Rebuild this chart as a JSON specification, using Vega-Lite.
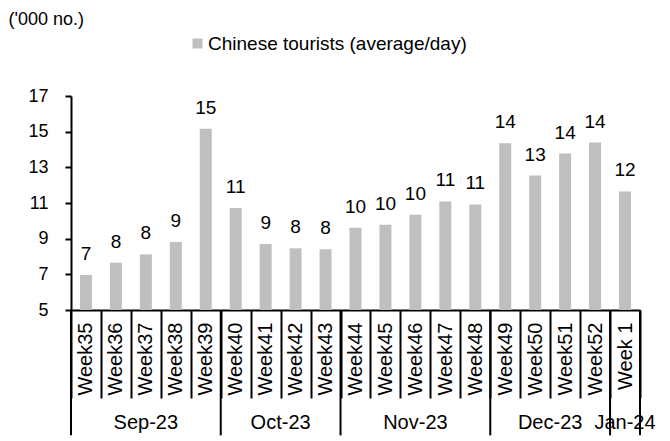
{
  "$schema": "https://vega.github.io/schema/vega-lite/v6.json",
  "autosize": "none",
  "width": 569,
  "height": 214,
  "padding": {"left": 71, "top": 96, "right": 30, "bottom": 131},
  "background": "white",
  "config": {
    "view": {"stroke": null},
    "font": "Liberation Sans",
    "text": {"font": "Liberation Sans", "color": "black"},
    "axis": {"labelFont": "Liberation Sans", "titleFont": "Liberation Sans", "labelColor": "black", "titleColor": "black"},
    "legend": {"labelFont": "Liberation Sans", "labelColor": "black"}
  },
  "datasets": {
    "weeks": [
      {"week": "Week35", "value": 6.97},
      {"week": "Week36", "value": 7.65},
      {"week": "Week37", "value": 8.12},
      {"week": "Week38", "value": 8.81},
      {"week": "Week39", "value": 15.17},
      {"week": "Week40", "value": 10.72},
      {"week": "Week41", "value": 8.70},
      {"week": "Week42", "value": 8.46},
      {"week": "Week43", "value": 8.40},
      {"week": "Week44", "value": 9.61},
      {"week": "Week45", "value": 9.78},
      {"week": "Week46", "value": 10.34},
      {"week": "Week47", "value": 11.09},
      {"week": "Week48", "value": 10.92},
      {"week": "Week49", "value": 14.35},
      {"week": "Week50", "value": 12.54},
      {"week": "Week51", "value": 13.77},
      {"week": "Week52", "value": 14.39},
      {"week": "Week 1", "value": 11.65}
    ],
    "monthStarts": [
      {"week": "Week35"},
      {"week": "Week40"},
      {"week": "Week44"},
      {"week": "Week49"},
      {"week": "Week 1"}
    ],
    "monthEnd": [
      {"week": "Week 1"}
    ],
    "monthsOdd": [
      {"week": "Week37", "month": "Sep-23"},
      {"week": "Week46", "month": "Nov-23"},
      {"week": "Week 1", "month": "Jan-24"}
    ],
    "monthsEven": [
      {"week": "Week41", "month": "Oct-23"},
      {"week": "Week50", "month": "Dec-23"}
    ]
  },
  "layer": [
    {
      "data": {"name": "weeks"},
      "mark": {"type": "bar", "width": {"band": 0.4}},
      "encoding": {
        "x": {
          "field": "week", "type": "nominal", "sort": null,
          "scale": {"domain": ["Week35","Week36","Week37","Week38","Week39","Week40","Week41","Week42","Week43","Week44","Week45","Week46","Week47","Week48","Week49","Week50","Week51","Week52","Week 1"], "paddingInner": 0, "paddingOuter": 0},
          "axis": {"title": null, "labelAngle": -90, "tickBand": "extent", "tickSize": 88, "labelPadding": -76, "labelFontSize": 20, "domainColor": "black", "domainWidth": 2, "tickColor": "black", "tickWidth": 2, "labelOverlap": false}
        },
        "y": {
          "field": "value", "type": "quantitative",
          "scale": {"domain": [5, 17], "nice": false, "zero": false},
          "axis": {"values": [5, 7, 9, 11, 13, 15, 17], "tickCount": 7, "labelOverlap": false, "labelBound": false, "grid": false, "title": "('000 no.)", "titleAngle": 0, "titleAlign": "left", "titleBaseline": "top", "titleX": -63, "titleY": -86, "titleFontSize": 18, "titleFontWeight": "normal", "labelFontSize": 18, "labelPadding": 17, "tickSize": 6, "tickColor": "black", "tickWidth": 2, "domainColor": "black", "domainWidth": 2}
        },
        "y2": {"datum": 5},
        "color": {
          "datum": "Chinese tourists (average/day)",
          "scale": {"range": ["#bfbfbf"]},
          "legend": {"orient": "none", "legendX": 117, "legendY": -62, "title": null, "symbolType": "square", "symbolSize": 100, "symbolStrokeWidth": 0, "labelFontSize": 19, "labelOffset": 1, "labelLimit": 0}
        }
      }
    },
    {
      "data": {"name": "weeks"},
      "mark": {"type": "text", "baseline": "alphabetic", "dy": -15, "fontSize": 19},
      "encoding": {
        "x": {"field": "week", "type": "nominal", "sort": null},
        "y": {"field": "value", "type": "quantitative", "axis": {"values": [5, 7, 9, 11, 13, 15, 17], "tickCount": 7, "labelOverlap": false}},
        "text": {"field": "value", "type": "quantitative", "format": ".0f"}
      }
    },
    {
      "data": {"name": "monthStarts"},
      "mark": {"type": "rule", "color": "black", "strokeWidth": 2},
      "encoding": {
        "x": {"field": "week", "type": "nominal", "sort": null, "bandPosition": 0},
        "y": {"datum": 5},
        "y2": {"datum": -2.03}
      }
    },
    {
      "data": {"name": "monthEnd"},
      "mark": {"type": "rule", "color": "black", "strokeWidth": 2},
      "encoding": {
        "x": {"field": "week", "type": "nominal", "sort": null, "bandPosition": 1},
        "y": {"datum": 5},
        "y2": {"datum": -2.03}
      }
    },
    {
      "data": {"name": "monthsOdd"},
      "mark": {"type": "text", "baseline": "middle", "align": "center", "fontSize": 20},
      "encoding": {
        "x": {"field": "week", "type": "nominal", "sort": null, "bandPosition": 0.5},
        "y": {"datum": -1.35},
        "text": {"field": "month"}
      }
    },
    {
      "data": {"name": "monthsEven"},
      "mark": {"type": "text", "baseline": "middle", "align": "center", "fontSize": 20},
      "encoding": {
        "x": {"field": "week", "type": "nominal", "sort": null, "bandPosition": 1},
        "y": {"datum": -1.35},
        "text": {"field": "month"}
      }
    }
  ]
}
